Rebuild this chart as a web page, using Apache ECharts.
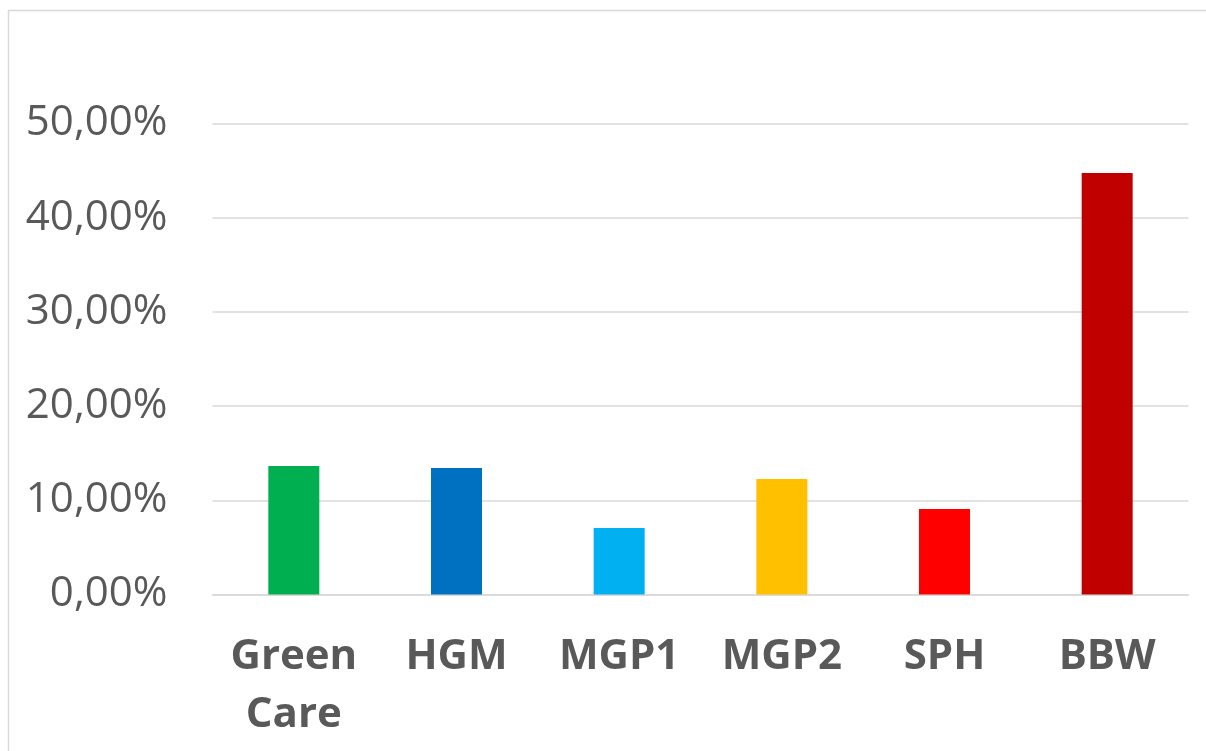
<!DOCTYPE html>
<html>
<head>
<meta charset="utf-8">
<script src="https://cdn.jsdelivr.net/npm/echarts@6/dist/echarts.min.js"></script>
<style>
html,body{margin:0;padding:0;background:#fff;}
#chart{width:1206px;height:751px;}
</style>
</head>
<body>
<div id="chart"></div>
<script>
const categories = ["Green Care", "HGM", "MGP1", "MGP2", "SPH", "BBW"];
const values = [13.64, 13.43, 7.06, 12.26, 9.08, 44.75];
const barColors = ["#00B050", "#0070C0", "#00B0F0", "#FFC000", "#FF0000", "#C00000"];
const yTicks = [0, 10, 20, 30, 40, 50];

const chart = echarts.init(document.getElementById('chart'), null, {renderer: 'canvas'});
chart.setOption({
  animation: false,
  backgroundColor: '#ffffff',
  graphic: [{
    type: 'rect',
    shape: {x: 8.5, y: 10.5, width: 1220, height: 800},
    style: {fill: 'none', stroke: '#d9d9d9', lineWidth: 1.5},
    silent: true
  }],
  grid: {left: 212.5, right: 17.5, top: 123.5, bottom: 156.5, containLabel: false},
  xAxis: {
    type: 'category',
    data: categories,
    axisLine: {show: true, lineStyle: {color: '#d9d9d9', width: 1.5}},
    axisTick: {show: false},
    axisLabel: {
      interval: 0,
      margin: 34,
      color: '#595959',
      fontFamily: 'Open Sans',
      fontWeight: 'bold',
      fontSize: 42,
      lineHeight: 58,
      formatter: v => v.replace(' ', '\n')
    }
  },
  yAxis: {
    type: 'value',
    min: yTicks[0],
    max: yTicks[yTicks.length - 1],
    interval: 10,
    axisLine: {show: false},
    axisTick: {show: false},
    splitLine: {lineStyle: {color: '#d9d9d9', width: 1.5}},
    axisLabel: {
      margin: 45,
      color: '#595959',
      fontFamily: 'Open Sans',
      fontSize: 42,
      formatter: v => v.toFixed(2).replace('.', ',') + '%'
    }
  },
  series: [{
    type: 'bar',
    data: values.map((v, i) => ({value: v, itemStyle: {color: barColors[i]}})),
    barWidth: 51
  }]
});
</script>
</body>
</html>
